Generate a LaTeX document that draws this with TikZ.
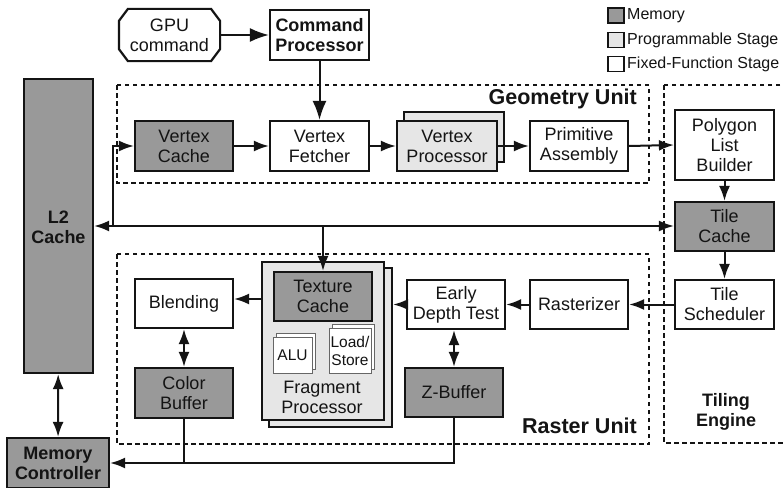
\documentclass[tikz,border=0pt]{standalone}
\usepackage{fontspec}
\setmainfont{Liberation Sans}
\usetikzlibrary{arrows.meta}
\definecolor{memc}{RGB}{153,153,153}
\definecolor{progc}{RGB}{230,230,230}
\definecolor{linec}{RGB}{20,20,20}
\begin{document}
\begin{tikzpicture}[x=1pt,y=-1pt,
  every node/.style={inner sep=0pt, align=center, text=linec},
  blk/.style={draw=linec, line width=2.2pt, fill=white, font=\fontsize{18}{20}\selectfont, minimum width=#1},
  blk/.default=99pt,
  mem/.style={fill=memc},
  prog/.style={fill=progc},
  small/.style={draw=linec!65, line width=1pt, fill=white, font=\fontsize{15.5}{18}\selectfont},
  unit/.style={draw=linec, line width=2.2pt, dash pattern=on 4.5pt off 3.5pt},
  lbl/.style={font=\bfseries\fontsize{21.5}{23}\selectfont},
  arr/.style={draw=linec, line width=2pt, -{Latex[length=15pt,width=11pt]}},
  bigarr/.style={draw=linec, line width=2pt, -{Latex[length=19pt,width=14pt]}},
  darr/.style={draw=linec, line width=2pt, {Latex[length=15pt,width=11pt]}-{Latex[length=15pt,width=11pt]}},
  ln/.style={draw=linec, line width=2pt},
  leg/.style={draw=linec, line width=1.8pt, minimum width=16pt, minimum height=15pt},
  legt/.style={anchor=west, font=\fontsize{16}{18}\selectfont}
]
\useasboundingbox (0,0) rectangle (783,487);
\clip (0,0) rectangle (783,487);
\fill[white] (0,0) rectangle (783,487);

% unit boxes
\draw[unit] (117,85) rectangle (649,183);
\draw[unit] (117,254) rectangle (649,444);
\draw[unit] (664,85) rectangle (800,443);
\node[lbl, anchor=east] (geolbl) at (637,99) {Geometry Unit};
\node[lbl, anchor=east] (raslbl) at (637,426) {Raster Unit};
\node[lbl, font=\bfseries\fontsize{18}{20}\selectfont] (tilelbl) at (726,412) {Tiling\\Engine};

% legend
\node[leg, mem] (lm) at (616,15.5) {};
\node[leg, prog] (lp) at (616,40) {};
\node[leg, fill=white] (lf) at (616,64) {};
\node[legt] (lmt) at (627,15.5) {Memory};
\node[legt] (lpt) at (627,40) {Programmable Stage};
\node[legt] (lft) at (627,64) {Fixed-Function Stage};

% top
\node[blk, minimum height=50pt, draw=none, fill=none] (gpu) at (169.5,35) {GPU\\command};
\draw[linec, line width=2.2pt] ([xshift=9pt]gpu.north west) -- ([xshift=-9pt]gpu.north east)
  -- ([yshift=-12pt]gpu.north east) -- ([yshift=12pt]gpu.south east)
  -- ([xshift=-9pt]gpu.south east) -- ([xshift=9pt]gpu.south west)
  -- ([yshift=12pt]gpu.south west) -- ([yshift=-12pt]gpu.north west) -- cycle;
\node[blk, minimum height=50pt, font=\bfseries\fontsize{18}{20}\selectfont] (cp) at (319.5,35) {Command\\Processor};

% geometry unit
\node[blk=98pt, mem, minimum height=50pt] (vc) at (184,146) {Vertex\\Cache};
\node[blk, minimum height=50pt] (vf) at (319.5,146) {Vertex\\Fetcher};
\node[blk=100pt, prog, minimum height=50pt] (vpb) at (454,137) {};
\node[blk=100pt, prog, minimum height=50pt] (vp) at (447,146) {Vertex\\Processor};
\node[blk=98pt, minimum height=50pt] (pa) at (579,146) {Primitive\\Assembly};

% tiling engine
\node[blk, minimum height=70pt] (plb) at (724.5,145) {Polygon\\List\\Builder};
\node[blk, mem, minimum height=49pt] (tc) at (724.5,226.5) {Tile\\Cache};
\node[blk, minimum height=49pt] (ts) at (724.5,304.5) {Tile\\Scheduler};

% raster unit
\node[blk=98pt, minimum height=49pt] (ras) at (579,304.5) {Rasterizer};
\node[blk=98pt, minimum height=49pt] (edt) at (456,304.5) {Early\\Depth Test};
\node[blk=98pt, mem, minimum height=49pt] (zb) at (454,392.5) {Z-Buffer};
\node[blk=98pt, minimum height=49pt] (bl) at (184,303.5) {Blending};
\node[blk=98pt, mem, minimum height=50pt] (cb) at (184,393) {Color\\Buffer};

\node[blk=123pt, prog, minimum height=159pt] (fpb) at (330.5,347.5) {};
\node[blk=122pt, prog, minimum height=158pt] (fp) at (323,341) {};
\node[blk=98pt, mem, minimum height=49pt] (tex) at (323,296.5) {Texture\\Cache};
\node[small, minimum width=39pt, minimum height=36pt] (alub) at (295.5,351) {};
\node[small, minimum width=39pt, minimum height=36pt] (alu) at (292.5,355) {ALU};
\node[small, minimum width=42pt, minimum height=45pt] (lsb) at (353,346.5) {};
\node[small, minimum width=42pt, minimum height=45pt] (ls) at (350,350.5) {Load/\\Store};
\node[font=\fontsize{18}{20}\selectfont] (fpt) at (322,397.5) {Fragment\\Processor};

% memory side
\node[blk=69pt, mem, minimum height=294pt] (l2) at (58.5,226) {};
\node[font=\bfseries\fontsize{18}{20}\selectfont] (l2t) at (58.5,227) {L2\\Cache};
\node[blk=102pt, mem, minimum height=50pt, font=\bfseries\fontsize{18}{20}\selectfont] (mc) at (58,463) {Memory\\Controller};

% connectors
\draw[bigarr] (gpu) -- (cp);
\draw[bigarr] (cp) -- (vf);
\draw[arr] (vc) -- (vf);
\draw[arr] (vf) -- (vp);
\draw[arr] (vp) -- (pa);
\draw[arr] (pa.east) -- (plb.west);
\draw[arr] (plb) -- (tc);
\draw[arr] (tc) -- (ts);
\draw[arr] (ts) -- (ras);
\draw[arr] (ras) -- (edt);
\draw[arr] (edt.west) -- (fpb.east |- edt.west);
\draw[darr] (edt.south -| zb.north) -- (zb.north);
\draw[arr] (fp.west |- 0,299) -- (bl.east |- 0,299);
\draw[darr] (bl) -- (cb);
\draw[darr] (l2) -- (mc);
\draw[darr] (l2.east) -- (tc.west |- l2.east);
\coordinate (j1) at (113,226);
\draw[arr] (j1) |- (vc.west);
\coordinate (j2) at (tex.north |- l2.east);
\draw[arr] (j2) -- (tex.north);
\draw[arr] (zb.south) |- (mc.east);
\draw[ln] (cb.south) -- (cb.south |- mc.east);
\end{tikzpicture}
\end{document}
